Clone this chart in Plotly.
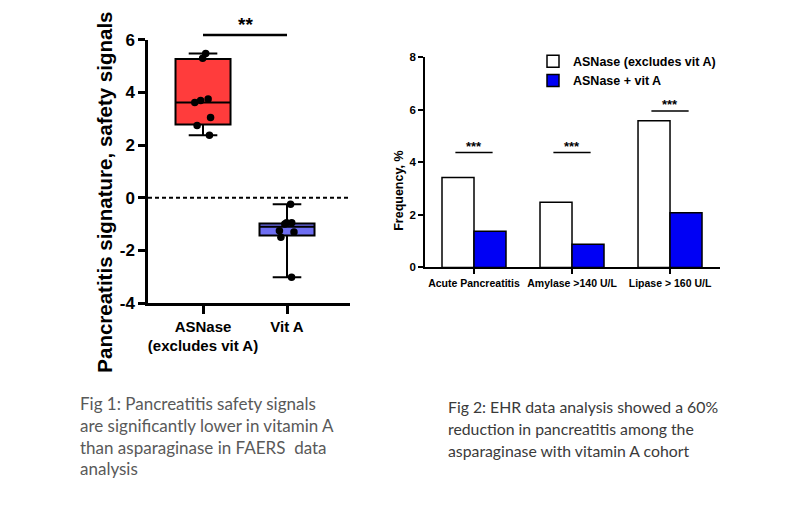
import plotly.graph_objects as go

# ---------------- Data: Fig 1 (box plot) ----------------
box_groups = ["ASNase<br>(excludes vit A)", "Vit A"]
asnase_points = [5.48, 5.30, 3.75, 3.70, 3.62, 3.05, 2.75, 2.38]
vita_points = [-0.25, -0.95, -0.95, -1.00, -1.25, -1.30, -1.50, -3.02]
box_q1 = [2.78, -1.43]
box_median = [3.62, -1.10]
box_q3 = [5.27, -0.98]
box_low = [2.38, -3.02]
box_high = [5.48, -0.25]
box_fill = ["#FF3C3C", "#6E6EF2"]
left_yticks = [-4, -2, 0, 2, 4, 6]

# ---------------- Data: Fig 2 (bar chart) ----------------
bar_categories = ["Acute Pancreatitis", "Amylase >140 U/L", "Lipase > 160 U/L"]
asnase_freq = [3.42, 2.48, 5.58]
vita_freq = [1.38, 0.88, 2.08]
sig_heights = [4.37, 4.37, 5.95]
right_yticks = [0, 2, 4, 6, 8]

fig = go.Figure()

# Box plot traces (min-max whiskers like GraphPad)
point_sets = [asnase_points, vita_points]
for i, name in enumerate(box_groups):
    fig.add_trace(go.Box(
        x=[name], y=[point_sets[i]],
        q1=[box_q1[i]], median=[box_median[i]], q3=[box_q3[i]],
        lowerfence=[box_low[i]], upperfence=[box_high[i]],
        boxpoints="all", jitter=0.45, pointpos=0,
        width=0.655, whiskerwidth=0.52,
        fillcolor=box_fill[i],
        line=dict(color="black", width=2),
        marker=dict(color="black", size=7.5),
        xaxis="x", yaxis="y", showlegend=False, hoverinfo="y",
    ))

# Bar chart traces
fig.add_trace(go.Bar(
    x=bar_categories, y=asnase_freq, name="<b>ASNase (excludes vit A)</b>",
    marker=dict(color="white", line=dict(color="black", width=1.5)),
    xaxis="x2", yaxis="y2",
))
fig.add_trace(go.Bar(
    x=bar_categories, y=vita_freq, name="<b>ASNase + vit A</b>",
    marker=dict(color="#0000F5", line=dict(color="black", width=1.5)),
    xaxis="x2", yaxis="y2",
))

shapes = []
annotations = []

# dotted zero line
shapes.append(dict(type="line", xref="x domain", yref="y", x0=0, x1=1, y0=0, y1=0,
                   line=dict(color="black", width=2, dash="4px,3px")))
# significance bar fig 1
shapes.append(dict(type="line", xref="x", yref="paper", x0=0, x1=1,
                   y0=1 - 27 / 530, y1=1 - 27 / 530, line=dict(color="black", width=2.5)))
annotations.append(dict(text="<b>**</b>", xref="x", yref="paper", x=0.5, y=1 - 27 / 530,
                        yanchor="bottom", yshift=-2,
                        showarrow=False, font=dict(size=19, color="black", family="Arial")))

# significance bars fig 2
for i, h in enumerate(sig_heights):
    shapes.append(dict(type="line", xref="x2", yref="y2", x0=i - 0.19, x1=i + 0.19,
                       y0=h, y1=h, line=dict(color="black", width=1.5)))
    annotations.append(dict(text="<b>***</b>", xref="x2", yref="y2", x=i, y=h,
                            yanchor="bottom", yshift=-3, showarrow=False,
                            font=dict(size=13, color="black", family="Arial")))

# axis titles
annotations.append(dict(text="<b>Pancreatitis signature, safety signals</b>", xref="paper", yref="paper",
                        x=91 / 800, y=1 - 190 / 530, textangle=-90, showarrow=False,
                        font=dict(size=20.5, color="black", family="Arial")))
annotations.append(dict(text="<b>Frequency, %</b>", xref="paper", yref="paper",
                        x=399 / 800, y=1 - 145 / 530, textangle=-90, showarrow=False,
                        font=dict(size=12.5, color="black", family="Arial")))

# captions
cap1 = ["Fig 1: Pancreatitis safety signals", "are significantly lower in vitamin A",
        "than asparaginase in FAERS  data", "analysis"]
cap2 = ["Fig 2: EHR data analysis showed a 60%", "reduction in pancreatitis among the",
        "asparaginase with vitamin A cohort"]
for k, line in enumerate(cap1):
    annotations.append(dict(text=line, xref="paper", yref="paper", x=78 / 800,
                            y=1 - (409 + 22.7 * k) / 530, xanchor="left", yanchor="middle",
                            showarrow=False, font=dict(size=17, color="#595959", family="Lato")))
for k, line in enumerate(cap2):
    annotations.append(dict(text=line, xref="paper", yref="paper", x=446 / 800,
                            y=1 - (412 + 22.7 * k) / 530, xanchor="left", yanchor="middle",
                            showarrow=False, font=dict(size=15.8, color="#3A3A3A", family="Lato")))

fig.update_layout(
    width=800, height=530,
    margin=dict(l=0, r=0, t=0, b=0),
    paper_bgcolor="white", plot_bgcolor="white",
    font=dict(family="Arial", color="black"),
    bargap=0.347, bargroupgap=0, barmode="group",
    shapes=shapes, annotations=annotations,
    xaxis=dict(domain=[148 / 800, 350 / 800], type="category", range=[-0.655, 1.75],
               tickvals=box_groups, ticktext=[f"<b>{g}</b>" for g in box_groups],
               showline=True, linecolor="black", linewidth=2.5, ticks="outside",
               ticklen=8, tickwidth=2.5, tickcolor="black", showgrid=False, zeroline=False,
               tickfont=dict(size=15, color="black"),
               anchor="y"),
    yaxis=dict(domain=[1 - 305 / 530, 1 - 32 / 530], range=[-4, 6], tickvals=left_yticks,
               ticktext=[f"<b>{v}</b>" for v in left_yticks],
               showline=True, linecolor="black", linewidth=2.5, ticks="outside",
               ticklen=7, tickwidth=2.5, tickcolor="black", showgrid=False, zeroline=False,
               tickfont=dict(size=17, color="black"), anchor="x"),
    xaxis2=dict(domain=[425 / 800, 720 / 800], type="category", range=[-0.5, 2.51],
                showline=True, linecolor="black", linewidth=1.8, ticks="outside",
                ticklen=5, tickwidth=1.5, tickcolor="black", showgrid=False, zeroline=False,
                ticktext=[f"<b>{c}</b>" for c in bar_categories], tickvals=bar_categories,
                tickfont=dict(size=10.5, color="black"), anchor="y2"),
    yaxis2=dict(domain=[1 - 268 / 530, 1 - 50 / 530], range=[0, 8], tickvals=right_yticks,
                ticktext=[f"<b>{v}</b>" for v in right_yticks],
                showline=True, linecolor="black", linewidth=1.8, ticks="outside",
                ticklen=5, tickwidth=1.5, tickcolor="black", showgrid=False, zeroline=False,
                tickfont=dict(size=11.5, color="black"), anchor="x2"),
    legend=dict(x=533 / 800, y=1 - 39 / 530, xanchor="left", yanchor="top",
                bgcolor="rgba(0,0,0,0)", font=dict(size=12.5, color="black"),
                tracegroupgap=0, itemwidth=30),
)

fig.write_html("out.html")
